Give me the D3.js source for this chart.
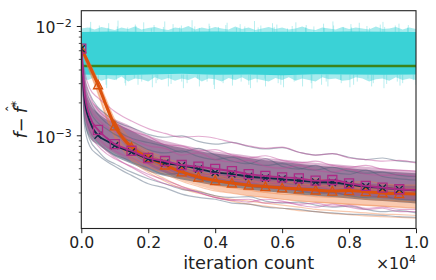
<!DOCTYPE html>
<html>
<head>
<meta charset="utf-8">
<script src="https://cdn.jsdelivr.net/npm/d3@7"></script>
<style>
body { margin: 0; background: #fff; }
svg { display: block; font-family: "DejaVu Sans", sans-serif; }
</style>
</head>
<body>
<div id="chart"></div>
<script>
// all curve values are in units of 1e-4
var unit = 1e-4;

// iteration grid shared by the decaying runs
var iters = [0, 100, 250, 500, 750, 1000, 1250, 1500, 2000, 2500, 3000, 3500, 4000, 4500, 5000, 5500, 6000, 6500, 7000, 7500, 8000, 8500, 9000, 9500, 10000];

// mean curves (drawn with markers)
var orangeMean  = [62, 54, 43, 29, 18.5, 12.2, 9.4, 7.8, 6.26, 5.35, 4.62, 4.15, 3.86, 3.66, 3.5, 3.4, 3.3, 3.23, 3.16, 3.09, 3.12, 3.05, 2.97, 2.93, 2.9];
var magentaMean = [62, 24, 15, 11.2, 9.5, 8.3, 7.7, 7.22, 6.2, 5.82, 5.35, 5.16, 4.92, 4.71, 4.42, 4.25, 4.13, 4.04, 3.85, 3.9, 3.64, 3.44, 3.32, 3.21, 3.16];
var navyMean    = [62, 21, 13.5, 10.0, 8.9, 8.07, 7.5, 7.03, 6.1, 5.58, 5.3, 4.92, 4.57, 4.42, 4.2, 4.07, 3.98, 3.86, 3.74, 3.7, 3.55, 3.4, 3.3, 3.2, 3.13];

// dense part of each group of runs (lower / upper edge)
var navyLo = [62, 13, 9.5, 8.2, 7.2, 6.4, 5.9, 5.5, 4.7, 4.25, 3.95, 3.7, 3.5, 3.35, 3.2, 3.08, 2.98, 2.88, 2.8, 2.72, 2.64, 2.56, 2.5, 2.44, 2.38];
var navyHi = [62, 30, 20, 16, 14, 13, 12, 11, 9.3, 8.3, 7.7, 7.2, 6.8, 6.5, 6.2, 5.9, 5.7, 5.5, 5.3, 5.15, 5.0, 4.85, 4.7, 4.6, 4.5];
var magLo  = [62, 16, 11, 8.8, 7.6, 6.8, 6.2, 5.8, 5.0, 4.55, 4.2, 3.95, 3.75, 3.55, 3.4, 3.28, 3.18, 3.08, 2.98, 2.9, 2.82, 2.75, 2.66, 2.58, 2.52];
var magHi  = [62, 34, 22, 18, 15.5, 14, 13, 12, 10, 8.9, 8.2, 7.6, 7.1, 6.8, 6.5, 6.2, 6.0, 5.8, 5.6, 5.45, 5.3, 5.15, 5.0, 4.85, 4.75];
var orLo   = [62, 53, 41.5, 27.5, 17.2, 11.3, 8.6, 7.1, 5.4, 4.55, 3.85, 3.45, 3.15, 2.95, 2.8, 2.68, 2.58, 2.5, 2.42, 2.36, 2.3, 2.26, 2.22, 2.18, 2.15];
var orHi   = [62, 55.5, 45, 31, 20, 13.3, 10.3, 8.5, 6.8, 5.8, 5.1, 4.7, 4.5, 4.3, 4.15, 4.05, 3.95, 3.85, 3.8, 3.72, 3.7, 3.62, 3.55, 3.5, 3.45];

// a few single runs per group
var navyRuns = [
  [62, 34, 24, 18, 15.5, 13.5, 12.5, 11.8, 10.2, 9.6, 9.9, 8.8, 8.3, 8.6, 7.9, 7.5, 7.7, 7.0, 6.6, 6.8, 6.3, 6.0, 6.2, 5.8, 5.7],
  [62, 14, 9.2, 7.2, 6.0, 5.5, 5.0, 4.6, 4.0, 3.6, 3.2, 3.05, 2.8, 2.7, 2.75, 2.5, 2.4, 2.45, 2.3, 2.2, 2.25, 2.1, 2.0, 2.05, 1.95],
  [62, 26, 17, 13, 11.5, 10.2, 9.4, 8.8, 7.4, 6.9, 7.2, 6.4, 6.0, 6.3, 5.6, 5.3, 5.5, 5.0, 4.8, 5.1, 4.7, 4.5, 4.6, 4.3, 4.2],
  [62, 17, 11, 8.6, 7.4, 6.6, 6.2, 5.7, 5.0, 4.4, 4.5, 4.0, 3.7, 3.8, 3.4, 3.3, 3.4, 3.1, 2.95, 3.0, 2.8, 2.7, 2.75, 2.6, 2.55],
  [62, 30, 21, 15.5, 13, 11.5, 10.2, 9.4, 8.6, 7.9, 7.0, 7.6, 6.6, 5.8, 5.5, 6.1, 5.2, 4.9, 5.3, 4.6, 4.4, 4.8, 4.2, 4.0, 3.9],
  [62, 12, 8.0, 6.6, 5.8, 5.2, 4.7, 4.3, 3.6, 3.3, 2.9, 2.7, 2.6, 2.4, 2.35, 2.2, 2.15, 2.1, 2.0, 1.95, 1.9, 1.88, 1.85, 1.8, 1.78]
];
var magRuns = [
  [62, 38, 27, 22, 19, 16.5, 14.8, 13.5, 11.5, 10.4, 9.6, 9.8, 9.4, 8.6, 8.0, 7.6, 7.8, 7.0, 6.6, 6.8, 6.2, 6.0, 5.8, 5.9, 5.6],
  [62, 16, 10.5, 8.0, 6.8, 6.1, 5.6, 5.1, 4.2, 3.6, 3.3, 3.0, 2.7, 2.55, 2.6, 2.4, 2.45, 2.3, 2.2, 2.35, 2.2, 2.1, 2.15, 2.0, 2.0],
  [62, 28, 18, 14, 12, 10.8, 9.9, 9.2, 8.0, 7.6, 6.6, 6.9, 6.0, 5.7, 5.9, 5.2, 5.0, 5.3, 4.8, 4.6, 4.9, 4.4, 4.3, 4.4, 4.2],
  [62, 20, 12.5, 9.5, 8.0, 7.2, 6.6, 6.2, 5.4, 5.0, 4.6, 4.3, 4.4, 4.0, 3.7, 3.8, 3.5, 3.4, 3.5, 3.2, 3.1, 3.15, 3.0, 2.9, 2.95],
  [62, 33, 23, 17, 14.5, 12.8, 11.8, 10.9, 9.8, 8.2, 8.0, 7.2, 7.4, 6.6, 6.2, 6.5, 5.9, 5.6, 5.8, 5.3, 5.1, 5.3, 4.9, 4.8, 4.7],
  [62, 18, 11.5, 8.8, 7.2, 6.3, 5.6, 5.2, 4.4, 3.9, 3.4, 3.0, 2.7, 2.55, 2.45, 2.6, 2.5, 2.35, 2.4, 2.25, 2.3, 2.15, 2.2, 2.1, 2.1]
];
var orRuns = [
  [62, 56, 46, 32, 21, 14, 11, 9.0, 7.2, 6.2, 5.5, 5.0, 4.6, 4.5, 4.2, 4.3, 4.0, 3.9, 4.0, 3.8, 3.7, 3.8, 3.6, 3.5, 3.5],
  [62, 52, 40, 26, 16, 10.5, 8.0, 6.6, 5.2, 4.4, 3.8, 3.4, 3.1, 2.95, 2.8, 2.7, 2.6, 2.5, 2.45, 2.4, 2.35, 2.3, 2.25, 2.2, 2.15],
  [62, 55, 44, 30, 19.5, 13, 10, 8.3, 6.7, 5.6, 5.0, 4.4, 4.2, 3.9, 3.8, 3.6, 3.55, 3.4, 3.45, 3.3, 3.35, 3.2, 3.15, 3.1, 3.05],
  [62, 53, 42, 27.5, 17.5, 11.5, 8.8, 7.2, 5.8, 4.9, 4.2, 3.8, 3.5, 3.3, 3.15, 3.0, 2.9, 2.85, 2.75, 2.7, 2.75, 2.6, 2.55, 2.5, 2.45],
  [62, 51, 39, 25, 15, 10, 7.6, 6.2, 4.8, 4.0, 3.4, 3.1, 2.8, 2.6, 2.5, 2.4, 2.3, 2.2, 2.1, 2.05, 2.0, 1.95, 1.9, 1.88, 1.85],
  [62, 55, 45, 31, 20, 13.5, 10.4, 8.6, 6.9, 5.9, 5.2, 4.7, 4.3, 4.1, 3.9, 3.7, 3.75, 3.6, 3.5, 3.45, 3.4, 3.3, 3.35, 3.25, 3.2],
  [62, 50, 38, 24, 14.5, 9.6, 7.3, 5.9, 4.6, 3.8, 3.25, 2.95, 2.7, 2.5, 2.35, 2.25, 2.15, 2.05, 2.0, 1.92, 1.88, 1.83, 1.8, 1.77, 1.75]
];

// noisy cyan runs: solid core, ragged edge and needle tips (evenly spaced over 0..10000)
var cyanCoreLo = [36, 35.5, 36, 36.5, 35.8, 36, 35.5, 36.2, 36, 35.8, 36];
var cyanCoreHi = [88, 89, 88, 88.5, 89, 88, 88.5, 88, 89, 88.5, 88];
var cyanTop = [95, 97, 93, 98, 95, 92, 97, 94, 99, 93, 96, 98, 94, 92, 97, 95, 100, 93, 97, 94, 98, 95, 93, 99, 94, 97, 92, 95, 98, 94, 97, 93, 95, 99, 94, 92, 97, 95, 93, 98, 94, 97, 95, 93, 99, 94, 95, 98, 93, 97, 94];
var cyanBot = [33, 32, 34, 31.5, 33, 32, 34.5, 31, 33, 32.5, 31, 34, 32, 33.5, 31.5, 33, 32, 34, 31, 33, 32.5, 31, 33.5, 32, 34, 31.5, 33, 32, 31, 33.5, 32, 34, 31.5, 33, 32, 31, 34, 32.5, 33, 31.5, 32, 34, 33, 31, 32.5, 33, 31.5, 34, 32, 33, 32];
var topSpikes = [104, 98, 109, 101, 96, 106, 99, 112, 97, 103, 100, 108, 95, 102, 110, 98, 104, 97, 101, 113, 99, 96, 105, 100, 98, 107, 102, 96, 104, 99, 111, 97, 101, 106, 98, 103, 95, 100, 108, 97, 102, 99, 105, 96, 110, 101, 98, 104, 97, 107, 100, 96, 103, 109, 98, 101, 105, 97, 102, 99];
var botSpikes = [30, 33, 28, 31, 29, 27, 32, 30, 28.5, 33, 29, 31, 27.5, 30, 32, 28, 29.5, 31, 27, 30, 33, 28, 31, 29, 26.5, 30, 32, 28.5, 31, 29, 27, 30.5, 33, 28, 30, 29, 27.5, 31, 32, 28, 30, 26.8, 29, 31, 28, 32, 30, 27.5, 29, 31, 33, 28, 30, 27, 29.5, 31, 28.5, 30, 32, 29];
// small sideways offsets of the needles (px) so they do not look like a fence
var spikeShift = [0, 3, -2, 1, 4, -1, 2, -3, 1, 3, -2, 0, 2, -1, 4, -3, 1, 2, -2, 3, 0, -1, 3, -2, 1, 4, -3, 2, 0, -1, 3, 1, -2, 4, 0, -3, 2, 1, -1, 3, -2, 0, 4, -1, 2, -3, 1, 3, -2, 0, 2, -1, 4, 1, -3, 2, 0, 3, -2, 1];

// green constant reference line
var greenIters = [0, 10000];
var greenLevel = [43, 43];

var xTicks = [0, 2000, 4000, 6000, 8000, 10000];
var yMajor = [1e-3, 1e-2];
var yMajorExp = ["−3", "−2"];
var yMinor = [2e-4, 3e-4, 4e-4, 5e-4, 6e-4, 7e-4, 8e-4, 9e-4, 2e-3, 3e-3, 4e-3, 5e-3, 6e-3, 7e-3, 8e-3, 9e-3];

var width = 436, height = 280;
var pLeft = 81.3, pRight = 416, pTop = 10.7, pBottom = 228.5;

var svg = d3.select("#chart").append("svg")
    .attr("width", width)
    .attr("height", height);

var x = d3.scaleLinear().domain([0, 10000]).range([pLeft, pRight]);
var y = d3.scaleLog().domain([1.404e-4, 1.38e-2]).range([pBottom, pTop]);

svg.append("clipPath").attr("id", "clip")
  .append("rect")
    .attr("x", pLeft).attr("y", pTop)
    .attr("width", pRight - pLeft).attr("height", pBottom - pTop);

var plot = svg.append("g").attr("clip-path", "url(#clip)");

function even(n) { return d3.range(n).map(i => i * 10000 / (n - 1)); }

function band(its, lo, hi, curve) {
    return d3.area()
        .x((d, i) => x(its[i]))
        .y0((d, i) => y(lo[i] * unit))
        .y1((d, i) => y(hi[i] * unit))
        .curve(curve || d3.curveLinear)(lo);
}

function line(its, vals, curve) {
    return d3.line()
        .x((d, i) => x(its[i]))
        .y(d => y(d * unit))
        .curve(curve || d3.curveLinear)(vals);
}

// cyan runs
var cyan = "#3ad2d6";
plot.append("path").attr("d", band(even(cyanTop.length), cyanBot, cyanTop))
    .attr("fill", cyan).attr("opacity", 0.45);

function spikes(tips, base, flip) {
    var its = even(tips.length);
    plot.append("g").selectAll("line")
        .data(tips)
        .enter()
        .append("line")
        .attr("x1", (d, i) => x(its[i]) + spikeShift[flip ? tips.length - 1 - i : i])
        .attr("x2", (d, i) => x(its[i]) + spikeShift[flip ? tips.length - 1 - i : i])
        .attr("y1", y(base * unit))
        .attr("y2", d => y(d * unit))
        .attr("stroke", cyan)
        .attr("stroke-width", 1)
        .attr("opacity", 0.35);
}
spikes(topSpikes, 88, false);
spikes(botSpikes, 36, true);

plot.append("path").attr("d", band(even(cyanCoreLo.length), cyanCoreLo, cyanCoreHi))
    .attr("fill", cyan);

// green line
plot.append("path").attr("d", line(greenIters, greenLevel))
    .attr("fill", "none").attr("stroke", "#3b8319").attr("stroke-width", 2.6);

var smooth = d3.curveMonotoneX;

// run bands
plot.append("path").attr("d", band(iters, orLo, orHi, smooth))
    .attr("fill", "#ef7a3a").attr("opacity", 0.4);
plot.append("path").attr("d", band(iters, navyLo, navyHi, smooth))
    .attr("fill", "#1f2c4a").attr("opacity", 0.45);
plot.append("path").attr("d", band(iters, magLo, magHi, smooth))
    .attr("fill", "#9e2f82").attr("opacity", 0.35);

// single runs
orRuns.forEach(r => plot.append("path").attr("d", line(iters, r, smooth))
    .attr("fill", "none").attr("stroke", "#f07a36").attr("stroke-width", 1.2).attr("opacity", 0.4));
navyRuns.forEach(r => plot.append("path").attr("d", line(iters, r, smooth))
    .attr("fill", "none").attr("stroke", "#4d6179").attr("stroke-width", 1.2).attr("opacity", 0.45));
magRuns.forEach(r => plot.append("path").attr("d", line(iters, r, smooth))
    .attr("fill", "none").attr("stroke", "#c04a9a").attr("stroke-width", 1.2).attr("opacity", 0.45));

// mean curves and their markers (every 500 iterations)
var markIdx = iters.map((d, i) => i).filter(i => iters[i] % 500 === 0 && iters[i] < 10000);

function meanCurve(vals, color, w, marker) {
    plot.append("path").attr("d", line(iters, vals, smooth))
        .attr("fill", "none").attr("stroke", color).attr("stroke-width", w);
    plot.append("g").selectAll("path")
        .data(markIdx)
        .enter()
        .append("path")
        .attr("transform", i => "translate(" + x(iters[i]) + "," + y(vals[i] * unit) + ")")
        .attr("d", marker)
        .attr("fill", "none")
        .attr("stroke", color)
        .attr("stroke-width", 1.3);
}

meanCurve(orangeMean, "#db520c", 3, "M0,-4.5L-4.5,4L4.5,4Z");
meanCurve(navyMean, "#0e2a45", 1.8, "M-3.5,-3.5L3.5,3.5M-3.5,3.5L3.5,-3.5");
meanCurve(magentaMean, "#ac2a86", 1.8, "M-4.5,-4.5H4.5V4.5H-4.5Z");

// axes
var xAxis = svg.append("g")
    .attr("transform", "translate(0," + pBottom + ")")
    .call(d3.axisBottom(x).tickValues(xTicks).tickSize(4.7).tickSizeOuter(0)
        .tickFormat(d => (d / 1e4).toFixed(1)));
xAxis.select(".domain").remove();
xAxis.selectAll("line").attr("stroke", "#222").attr("stroke-width", 1);
xAxis.selectAll("text").attr("y", 19.2).attr("dy", 0)
    .attr("font-size", 15.7).attr("font-family", "DejaVu Sans").attr("fill", "#222");

var yMinorAxis = svg.append("g")
    .attr("transform", "translate(" + pLeft + ",0)")
    .call(d3.axisLeft(y).tickValues(yMinor).tickSize(2.5).tickSizeOuter(0).tickFormat(""));
yMinorAxis.select(".domain").remove();
yMinorAxis.selectAll("line").attr("stroke", "#222").attr("stroke-width", 0.8);

var yAxis = svg.append("g")
    .attr("transform", "translate(" + pLeft + ",0)")
    .call(d3.axisLeft(y).tickValues(yMajor).tickSize(4.5).tickSizeOuter(0).tickFormat(""));
yAxis.select(".domain").remove();
yAxis.selectAll("line").attr("stroke", "#222").attr("stroke-width", 1);
yAxis.selectAll(".tick").each(function(d, i) {
    var t = d3.select(this).append("text")
        .attr("x", -9.6).attr("y", 6.7)
        .attr("text-anchor", "end")
        .attr("fill", "#222")
        .attr("font-size", 15.7)
        .attr("font-family", "DejaVu Sans");
    t.append("tspan").text("10");
    t.append("tspan").attr("dy", -6).attr("font-size", 11).text(yMajorExp[i]);
});

// frame
svg.append("rect")
    .attr("x", pLeft).attr("y", pTop)
    .attr("width", pRight - pLeft).attr("height", pBottom - pTop)
    .attr("fill", "none").attr("stroke", "#222").attr("stroke-width", 1.1);

// x label and offset text
svg.append("text")
    .attr("x", (pLeft + pRight) / 2).attr("y", 269)
    .attr("text-anchor", "middle")
    .attr("font-size", 17.8)
    .attr("fill", "#222")
    .text("iteration count");

var off = svg.append("text")
    .attr("x", pRight).attr("y", 269)
    .attr("text-anchor", "end")
    .attr("font-size", 15.7)
    .attr("fill", "#222");
off.append("tspan").text("×10");
off.append("tspan").attr("dy", -6).attr("font-size", 11).text("4");

// y label: f − f̂*
var yl = svg.append("g")
    .attr("transform", "translate(26.5," + (pTop + pBottom) / 2 + ") rotate(-90)");
var ylt = yl.append("text")
    .attr("text-anchor", "middle")
    .attr("font-size", 17.8)
    .attr("fill", "#222");
ylt.append("tspan").attr("font-style", "italic").text("f");
ylt.append("tspan").text("−");
ylt.append("tspan").attr("dx", 4).attr("font-style", "italic").text("f");
ylt.append("tspan").attr("dy", -7).attr("font-size", 12.5).text("*");
var fBox = ylt.node().getExtentOfChar(2);
yl.append("text")
    .attr("x", fBox.x + fBox.width / 2 + 1.5)
    .attr("y", fBox.y + 7)
    .attr("text-anchor", "middle")
    .attr("font-size", 14)
    .attr("fill", "#222")
    .text("ˆ");
</script>
</body>
</html>
